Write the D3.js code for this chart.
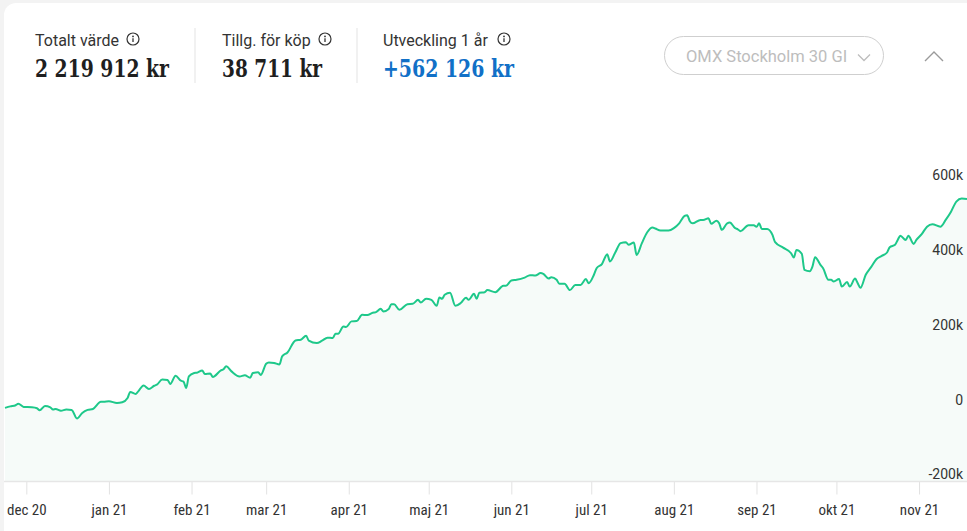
<!DOCTYPE html>
<html lang="sv">
<head>
    <meta charset="UTF-8">
    <title>Utveckling 1 år</title>
    <script src="https://d3js.org/d3.v7.min.js"></script>
    <style>
        html, body {
            margin: 0;
            padding: 0;
            background: #f3f3f3;
            overflow: hidden;
        }
        svg {
            display: block;
            font-family: Roboto, "Noto Sans", sans-serif;
        }
        .label {
            font-size: 16px;
            fill: #333;
        }
        .amount {
            font-family: "DejaVu Serif", serif;
            font-weight: bold;
            font-size: 24px;
        }
        .x-axis text {
            font-family: "Liberation Sans Narrow", "Roboto Condensed", Roboto, sans-serif;
            font-size: 15px;
            fill: #333;
        }
        .y-label {
            font-size: 14px;
            fill: #333;
        }
    </style>
</head>
<body>
    <svg class="chart" width="967" height="531"></svg>

    <script>
        // header figures
        const headerLabels = ["Totalt värde", "Tillg. för köp", "Utveckling 1 år"];
        const headerAmounts = ["2 219 912 kr", "38 711 kr", "+562 126 kr"];
        const indexName = "OMX Stockholm 30 GI";

        // portfolio development (kr)
        const dates = [
            "2020-11-23","2020-11-25","2020-11-27","2020-11-28","2020-11-30","2020-12-03","2020-12-05","2020-12-06",
            "2020-12-08","2020-12-10","2020-12-11","2020-12-12","2020-12-14","2020-12-16","2020-12-18","2020-12-20",
            "2020-12-22","2020-12-24","2020-12-26","2020-12-29","2020-12-30","2021-01-01","2021-01-04","2021-01-06",
            "2021-01-08","2021-01-09","2021-01-11","2021-01-12","2021-01-14","2021-01-16","2021-01-18","2021-01-19",
            "2021-01-21","2021-01-23","2021-01-24","2021-01-26","2021-01-28","2021-01-29","2021-01-30","2021-01-31",
            "2021-02-02","2021-02-03","2021-02-05","2021-02-06","2021-02-08","2021-02-09","2021-02-12","2021-02-13",
            "2021-02-14","2021-02-16","2021-02-19","2021-02-21","2021-02-23","2021-02-24","2021-02-26","2021-02-27",
            "2021-03-01","2021-03-02","2021-03-04","2021-03-06","2021-03-07","2021-03-09","2021-03-12","2021-03-14",
            "2021-03-16","2021-03-17","2021-03-20","2021-03-22","2021-03-24","2021-03-26","2021-03-27","2021-03-28",
            "2021-03-30","2021-03-31","2021-04-02","2021-04-04","2021-04-06","2021-04-08","2021-04-10","2021-04-11",
            "2021-04-13","2021-04-14","2021-04-16","2021-04-17","2021-04-18","2021-04-20","2021-04-23","2021-04-25",
            "2021-04-27","2021-04-28","2021-04-30","2021-05-02","2021-05-04","2021-05-05","2021-05-06","2021-05-07",
            "2021-05-09","2021-05-11","2021-05-13","2021-05-15","2021-05-16","2021-05-18","2021-05-19","2021-05-20",
            "2021-05-22","2021-05-23","2021-05-26","2021-05-29","2021-05-30","2021-06-01","2021-06-03","2021-06-06",
            "2021-06-08","2021-06-10","2021-06-12","2021-06-13","2021-06-15","2021-06-16","2021-06-18","2021-06-19",
            "2021-06-21","2021-06-23","2021-06-25","2021-06-27","2021-06-29","2021-06-30","2021-07-02","2021-07-03",
            "2021-07-05","2021-07-07","2021-07-08","2021-07-10","2021-07-12","2021-07-14","2021-07-15","2021-07-17",
            "2021-07-18","2021-07-20","2021-07-22","2021-07-24","2021-07-25","2021-07-27","2021-07-30","2021-08-01",
            "2021-08-03","2021-08-05","2021-08-06","2021-08-07","2021-08-08","2021-08-11","2021-08-12","2021-08-14",
            "2021-08-15","2021-08-17","2021-08-18","2021-08-19","2021-08-21","2021-08-22","2021-08-24","2021-08-25",
            "2021-08-26","2021-08-29","2021-08-31","2021-09-01","2021-09-02","2021-09-03","2021-09-05","2021-09-07",
            "2021-09-08","2021-09-11","2021-09-14","2021-09-15","2021-09-16","2021-09-18","2021-09-19","2021-09-21",
            "2021-09-22","2021-09-23","2021-09-25","2021-09-26","2021-09-28","2021-09-29","2021-09-30","2021-10-02",
            "2021-10-03","2021-10-05","2021-10-06","2021-10-08","2021-10-09","2021-10-10","2021-10-12","2021-10-14",
            "2021-10-16","2021-10-18","2021-10-20","2021-10-21","2021-10-23","2021-10-24","2021-10-25","2021-10-27",
            "2021-10-28","2021-10-30","2021-10-31","2021-11-02","2021-11-04","2021-11-06","2021-11-09","2021-11-11",
            "2021-11-13","2021-11-15","2021-11-17","2021-11-19"
        ];
        const values = [
            -22000,-18000,-15000,-11000,-19500,-20500,-23000,-28500,
            -17000,-20500,-26500,-25000,-29500,-26500,-27500,-50500,
            -35500,-27500,-25000,-6000,-6000,-4500,-9000,-7000,
            4500,20500,15000,22000,38000,28500,37000,40000,
            53500,52500,42000,64000,50500,48000,31000,62000,
            71000,72000,78000,68500,70000,60500,78000,81000,
            89000,75500,62000,65000,58500,71000,73000,66000,
            96000,99500,98000,94000,115500,126000,158000,160000,
            170500,157500,151000,157500,165500,164500,176000,176000,
            195500,194000,209000,210000,226500,226000,232000,233000,
            242500,235500,242000,255000,255000,240000,255000,256000,
            266500,259500,269500,266500,250500,273000,269500,280000,
            285500,250500,258000,272000,266500,282500,269500,285500,
            287000,292500,287000,304000,304000,318000,320000,326000,
            332500,331500,338000,336000,323500,327000,320000,309500,
            309500,292500,306500,306500,322000,311000,333500,351000,
            362000,388500,369000,393000,418000,420500,413500,419500,
            386500,418000,447000,459500,457000,451500,451500,458000,
            471000,490500,492500,476500,471000,480000,480000,484500,
            469500,478000,471000,453500,471000,473000,458000,455000,
            450000,466000,466000,461500,471000,456000,456000,440000,
            420500,406000,391000,379500,400000,389500,346500,343000,
            355500,380500,360000,351000,320000,320000,315500,322000,
            302000,314000,302000,323500,311000,298500,333500,354000,
            375000,384000,393000,407000,413500,426500,438000,426500,
            437500,416000,426500,442000,462000,468500,462000,480000,
            502000,529000,537000,536000
        ];

        // axis ticks
        const monthTicks = ["2020-12-01","2021-01-01","2021-02-01","2021-03-01","2021-04-01","2021-05-01",
                            "2021-06-01","2021-07-01","2021-08-01","2021-09-01","2021-10-01","2021-11-01"];
        const monthLabels = ["dec 20","jan 21","feb 21","mar 21","apr 21","maj 21",
                             "jun 21","jul 21","aug 21","sep 21","okt 21","nov 21"];
        const yTicks = [-200000, 0, 200000, 400000, 600000];
        const yTickLabels = ["-200k", "0", "200k", "400k", "600k"];

        const W = 967, H = 531;
        const plotBottom = 481.5;

        const parse = d3.timeParse("%Y-%m-%d");
        const data = dates.map((d, i) => ({ date: parse(d), value: values[i] }));

        const svg = d3.select(".chart");

        // card
        svg.append("rect")
            .attr("x", 4).attr("y", 3)
            .attr("width", W + 20).attr("height", H + 20)
            .attr("rx", 12)
            .attr("fill", "#fff");

        // header
        const colX = [35, 222, 383];
        const iconX = [133, 325, 504];
        const amountWidth = [134, 100, 131];
        const header = svg.append("g").attr("class", "header");

        colX.forEach((x, i) => {
            header.append("text")
                .attr("class", "label")
                .attr("x", x).attr("y", 46)
                .text(headerLabels[i]);

            const icon = header.append("g").attr("transform", `translate(${iconX[i]},39)`);
            icon.append("circle").attr("r", 6).attr("fill", "none").attr("stroke", "#333").attr("stroke-width", 1.2);
            icon.append("circle").attr("cy", -2.6).attr("r", 0.9).attr("fill", "#333");
            icon.append("line").attr("y1", -0.8).attr("y2", 3).attr("stroke", "#333").attr("stroke-width", 1.3);

            header.append("text")
                .attr("class", "amount")
                .attr("x", x).attr("y", 77)
                .attr("textLength", amountWidth[i])
                .attr("lengthAdjust", "spacingAndGlyphs")
                .style("fill", i === 2 ? "#1170c7" : "#1f1f1f")
                .text(headerAmounts[i]);
        });

        [195, 357].forEach(x => {
            header.append("line")
                .attr("x1", x).attr("x2", x)
                .attr("y1", 28).attr("y2", 83)
                .attr("stroke", "#e3e3e3");
        });

        // index selector
        header.append("rect")
            .attr("x", 664.5).attr("y", 36.5)
            .attr("width", 219).attr("height", 38)
            .attr("rx", 19)
            .attr("fill", "#fff")
            .attr("stroke", "#cfcfcf");
        header.append("text")
            .attr("x", 686).attr("y", 62)
            .style("font-size", "16.5px")
            .style("fill", "#bdbdbd")
            .text(indexName);
        header.append("path")
            .attr("d", "M858,54.5 L864,60.5 L870,54.5")
            .attr("fill", "none").attr("stroke", "#bdbdbd").attr("stroke-width", 1.3);
        header.append("path")
            .attr("d", "M925,61 L934,52 L943,61")
            .attr("fill", "none").attr("stroke", "#9a9a9a").attr("stroke-width", 1.4);

        // scales
        const x = d3.scaleTime()
            .domain(d3.extent(data, d => d.date))
            .range([5, W]);
        const y = d3.scaleLinear()
            .domain([-200000, 600000])
            .range([474.5, 175]);

        const area = d3.area()
            .x(d => x(d.date))
            .y0(plotBottom)
            .y1(d => y(d.value))
            .curve(d3.curveMonotoneX);
        const line = d3.line()
            .x(d => x(d.date))
            .y(d => y(d.value))
            .curve(d3.curveMonotoneX);

        svg.append("path")
            .datum(data)
            .attr("fill", "#f6fbf9")
            .attr("d", area);

        svg.append("path")
            .datum(data)
            .attr("fill", "none")
            .attr("stroke", "#1ec88a")
            .attr("stroke-width", 2)
            .attr("stroke-linejoin", "round")
            .attr("d", line);

        // y labels on the right
        svg.append("g")
            .selectAll("text")
            .data(yTicks)
            .join("text")
            .attr("class", "y-label")
            .attr("x", 963)
            .attr("y", d => y(d))
            .attr("dy", "0.35em")
            .attr("text-anchor", "end")
            .text((d, i) => yTickLabels[i]);

        // x axis
        const xAxis = d3.axisBottom(x)
            .tickValues(monthTicks.map(parse))
            .tickFormat((d, i) => monthLabels[i])
            .tickSize(13)
            .tickPadding(10)
            .tickSizeOuter(0);

        const gx = svg.append("g")
            .attr("class", "x-axis")
            .attr("transform", `translate(0,${plotBottom})`)
            .call(xAxis);
        gx.select(".domain").remove();
        gx.selectAll(".tick line").attr("stroke", "#e2e2e2");
        gx.selectAll(".tick text").attr("fill", "#333");

        svg.append("line")
            .attr("x1", 4).attr("x2", W)
            .attr("y1", plotBottom).attr("y2", plotBottom)
            .attr("stroke", "#e6e6e6")
            .attr("stroke-width", 1.5);
    </script>
</body>
</html>
